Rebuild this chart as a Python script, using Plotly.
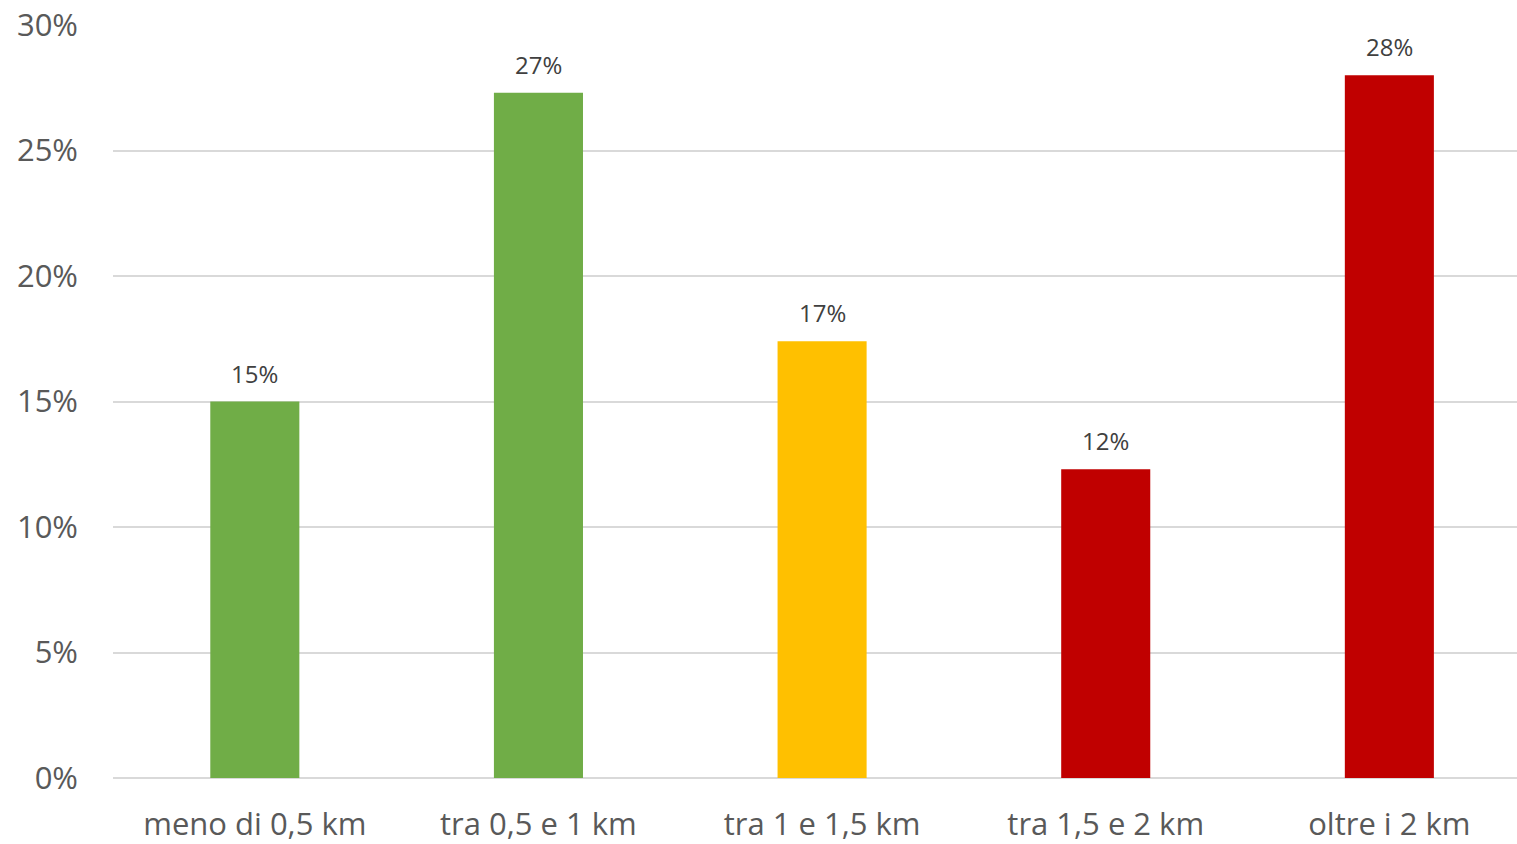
import plotly.graph_objects as go

categorie = ["meno di 0,5 km", "tra 0,5 e 1 km", "tra 1 e 1,5 km", "tra 1,5 e 2 km", "oltre i 2 km"]
valori = [0.15, 0.273, 0.174, 0.123, 0.28]
etichette = ["15%", "27%", "17%", "12%", "28%"]
colori = ["#70AD47", "#70AD47", "#FFC000", "#C00000", "#C00000"]
tick_y = [0, 0.05, 0.10, 0.15, 0.20, 0.25, 0.30]
tick_y_label = ["0%", "5%", "10%", "15%", "20%", "25%", "30%"]

fig = go.Figure()
fig.add_trace(go.Bar(
    x=categorie,
    y=valori,
    marker=dict(color=colori, line=dict(width=0)),
    width=0.314,
    hoverinfo="x+y",
))

# etichette sopra le barre
for cat, val, lab in zip(categorie, valori, etichette):
    fig.add_annotation(
        x=cat, y=val, text=lab,
        showarrow=False,
        yanchor="bottom",
        yshift=10,
        font=dict(family="Open Sans", size=24, color="#404040"),
    )

fig.update_layout(
    width=1517,
    height=844,
    plot_bgcolor="white",
    paper_bgcolor="white",
    margin=dict(l=113, r=0, t=25, b=66),
    showlegend=False,
    font=dict(family="Open Sans", color="#595959"),
)
fig.update_xaxes(
    range=[-0.5, 4.45],
    showgrid=False,
    showline=False,
    ticks="",
    automargin=False,
    ticklabelstandoff=25,
    tickfont=dict(size=31, color="#595959"),
)
fig.update_yaxes(
    range=[0, 0.30],
    tickvals=tick_y,
    ticktext=tick_y_label,
    showgrid=True,
    gridcolor="#D9D9D9",
    gridwidth=1.5,
    zeroline=True,
    zerolinecolor="#D9D9D9",
    zerolinewidth=1.5,
    ticks="",
    automargin=False,
    ticklabelstandoff=34,
    tickfont=dict(size=31, color="#595959"),
)

fig.write_html("out.html", config={"displayModeBar": False},
               post_script="document.body.style.margin='0';")
